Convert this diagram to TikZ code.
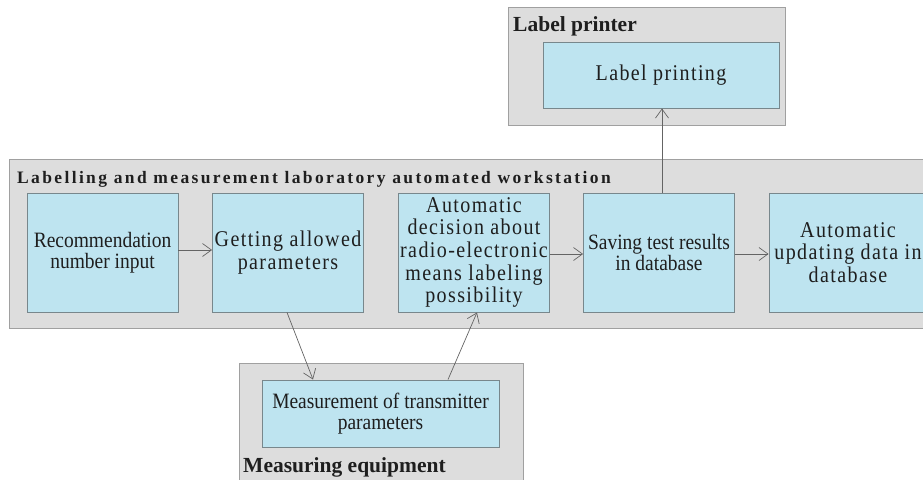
\documentclass[tikz,border=0pt]{standalone}
\usepackage{fontspec}
\setmainfont{Liberation Serif}
\usetikzlibrary{arrows.meta}
\definecolor{boxblue}{RGB}{190,228,240}
\definecolor{boxedge}{RGB}{120,135,140}
\definecolor{outerfill}{RGB}{221,221,221}
\definecolor{outeredge}{RGB}{160,160,160}
\definecolor{linegray}{RGB}{100,100,100}
\definecolor{txt}{RGB}{30,30,30}
\newcommand{\spacedtext}{\addfontfeature{FakeStretch=0.89,LetterSpace=6.2}\fontsize{22.5}{22.6}\selectfont}
\newcommand{\tighttext}{\addfontfeature{FakeStretch=0.89}\fontsize{21.9}{20.5}\selectfont}
\newcommand{\tightertext}{\addfontfeature{FakeStretch=0.89}\fontsize{21.9}{18.5}\selectfont}
\tikzset{
  outerbox/.style={fill=outerfill, draw=outeredge, line width=0.9pt},
  stepbox/.style={rectangle, fill=boxblue, draw=boxedge, line width=0.9pt, inner sep=0pt,
    align=center, text=txt, minimum width=151pt, minimum height=119pt},
  grouptitle/.style={anchor=base west, inner sep=0pt, text=txt, font=\bfseries\fontsize{21.5}{24}\selectfont},
  conn/.style={draw=linegray, line width=0.7pt, -{Straight Barb[length=9pt,width=13pt,line width=0.7pt]}}
}
\begin{document}
\begin{tikzpicture}[x=1pt,y=-1pt]
\useasboundingbox (0,0) rectangle (923,479);
% group frames
\draw[outerbox] (508,7) rectangle (785,125);
\draw[outerbox] (9,159) rectangle (935,328);
\draw[outerbox] (239,363) rectangle (523,490);
% group titles
\node[grouptitle] (tprinter) at (513,31) {Label printer};
\node[grouptitle, font=\bfseries\addfontfeature{LetterSpace=13.5}\fontsize{17.5}{20}\selectfont] (tws) at (17,183.5) {Labelling and measurement laboratory automated workstation};
\node[grouptitle] (tmeas) at (243,472) {Measuring equipment};
% steps
\node[stepbox, font=\tighttext] (b1) at (102.5,252.5) {Recommendation\\number input};
\node[stepbox, font=\spacedtext] (b2) at (288,252.5) {Getting allowed\\parameters};
\node[stepbox, font=\spacedtext] (b3) at (474,252.5) {Automatic\\decision about\\radio-electronic\\means labeling\\possibility};
\node[stepbox, font=\tightertext] (b4) at (659,252.5) {Saving test results\\in database};
\node[stepbox, font=\spacedtext, minimum width=158pt] (b5) at (848,252.5) {Automatic\\updating data in\\database};
\node[stepbox, font=\spacedtext, minimum width=236pt, minimum height=66pt] (lp) at (661,75) {Label printing};
\node[stepbox, font={\addfontfeature{FakeStretch=0.89}\fontsize{21.9}{20.5}\selectfont}, minimum width=237pt, minimum height=67pt] (meas) at (380.5,413.5) {Measurement of transmitter\\parameters};
% connectors
\draw[conn] ([yshift=2.5pt]b1.east) -- ([yshift=2.5pt]b2.west);
\draw[conn] ([yshift=-1.5pt]b3.east) -- ([yshift=-1.5pt]b4.west);
\draw[conn] ([yshift=-1.5pt]b4.east) -- ([yshift=-1.5pt]b5.west);
\draw[conn] ([xshift=-1pt]b2.south) -- ([xshift=-67.5pt]meas.north);
\draw[conn] ([xshift=67.5pt]meas.north) -- ([xshift=3pt]b3.south);
\draw[conn] ([xshift=3pt]b4.north) -- ([xshift=1pt]lp.south);
\end{tikzpicture}
\end{document}
